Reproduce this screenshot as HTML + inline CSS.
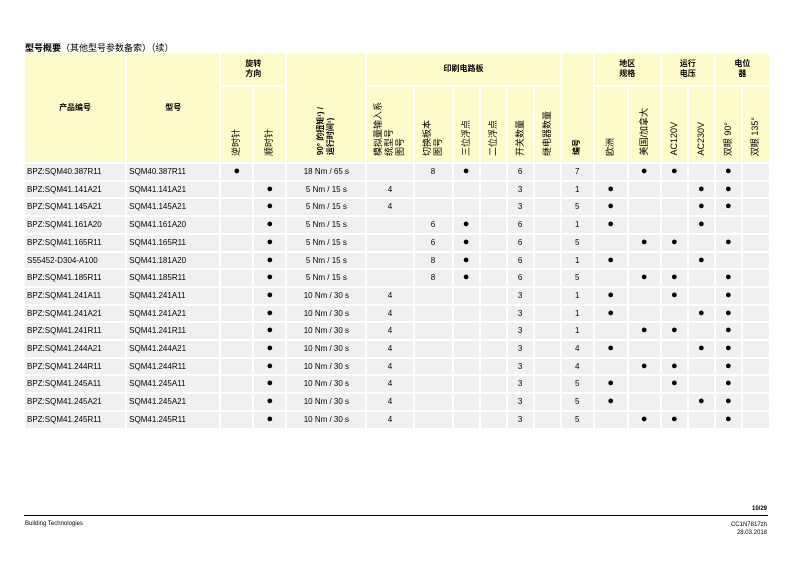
<!DOCTYPE html>
<html><head><meta charset="utf-8"><style>
body{margin:0;width:793px;height:561px;background:#fff;position:relative;overflow:hidden;font-family:"Liberation Sans","Noto Sans CJK SC",sans-serif;color:#000}
.title{position:absolute;left:25px;top:41px;font-size:9px}
.title b{font-weight:bold}
table{position:absolute;left:23px;top:51px;border-collapse:separate;border-spacing:2px;table-layout:fixed;width:748px}
td{padding:0;font-size:8px;text-align:center;vertical-align:middle;overflow:hidden;white-space:nowrap}
thead td{background:#fffccb;font-weight:bold;font-size:8px}
tbody td{background:#f0f0f0;height:15.7px;line-height:15.7px}
tbody td.l{text-align:left;padding-left:2px}
.r1 td{height:32px;line-height:10px}
.r2 td{height:71px;vertical-align:bottom;padding-bottom:4px}
.v{writing-mode:vertical-rl;text-orientation:sideways;transform:rotate(180deg);display:inline-block;font-weight:normal;font-size:9px;line-height:11px;text-align:left}
.vb{font-weight:bold;font-size:8px;line-height:10px}
.d{font-size:11px}
.line{position:absolute;left:24px;top:515px;width:744px;height:1px;background:#000}
.f{position:absolute;font-size:6px}
</style></head><body>
<div class="title"><b>型号概要</b>（其他型号参数备索）（续）</div>
<table>
<colgroup>
<col style="width:100px"><col style="width:92px"><col style="width:31px"><col style="width:31px"><col style="width:78px"><col style="width:45px"><col style="width:37px"><col style="width:25px"><col style="width:25px"><col style="width:25px"><col style="width:25px"><col style="width:31px"><col style="width:32px"><col style="width:31px"><col style="width:25px"><col style="width:25px"><col style="width:25px"><col style="width:26px">
</colgroup>
<thead>
<tr class="r1"><td rowspan="2" style="vertical-align:middle">产品编号</td><td rowspan="2" style="vertical-align:middle">型号</td><td colspan="2">旋转<br>方向</td><td rowspan="2" style="vertical-align:bottom;padding-bottom:4px"><span class="v vb">90° 的扭矩¹) /<br>运行时间¹)</span></td><td colspan="6">印刷电路板</td><td rowspan="2" style="vertical-align:bottom;padding-bottom:4px"><span class="v vb">编号</span></td><td colspan="2">地区<br>规格</td><td colspan="2">运行<br>电压</td><td colspan="2">电位<br>器</td></tr>
<tr class="r2"><td><span class="v">逆时针</span></td><td><span class="v">顺时针</span></td><td><span class="v">模拟量输入系<br>统型号<br>图号</span></td><td><span class="v">切换板本<br>图号</span></td><td><span class="v">三位浮点</span></td><td><span class="v">二位浮点</span></td><td><span class="v">开关数量</span></td><td><span class="v">继电器数量</span></td><td><span class="v">欧洲</span></td><td><span class="v">美国/加拿大</span></td><td><span class="v">AC120V</span></td><td><span class="v">AC230V</span></td><td><span class="v">双眼 90°</span></td><td><span class="v">双眼 135°</span></td></tr>
</thead>
<tbody>
<tr><td class="l">BPZ:SQM40.387R11</td><td class="l">SQM40.387R11</td><td class="d">●</td><td></td><td>18 Nm / 65 s</td><td></td><td>8</td><td class="d">●</td><td></td><td>6</td><td></td><td>7</td><td></td><td class="d">●</td><td class="d">●</td><td></td><td class="d">●</td><td></td></tr>
<tr><td class="l">BPZ:SQM41.141A21</td><td class="l">SQM41.141A21</td><td></td><td class="d">●</td><td>5 Nm / 15 s</td><td>4</td><td></td><td></td><td></td><td>3</td><td></td><td>1</td><td class="d">●</td><td></td><td></td><td class="d">●</td><td class="d">●</td><td></td></tr>
<tr><td class="l">BPZ:SQM41.145A21</td><td class="l">SQM41.145A21</td><td></td><td class="d">●</td><td>5 Nm / 15 s</td><td>4</td><td></td><td></td><td></td><td>3</td><td></td><td>5</td><td class="d">●</td><td></td><td></td><td class="d">●</td><td class="d">●</td><td></td></tr>
<tr><td class="l">BPZ:SQM41.161A20</td><td class="l">SQM41.161A20</td><td></td><td class="d">●</td><td>5 Nm / 15 s</td><td></td><td>6</td><td class="d">●</td><td></td><td>6</td><td></td><td>1</td><td class="d">●</td><td></td><td></td><td class="d">●</td><td></td><td></td></tr>
<tr><td class="l">BPZ:SQM41.165R11</td><td class="l">SQM41.165R11</td><td></td><td class="d">●</td><td>5 Nm / 15 s</td><td></td><td>6</td><td class="d">●</td><td></td><td>6</td><td></td><td>5</td><td></td><td class="d">●</td><td class="d">●</td><td></td><td class="d">●</td><td></td></tr>
<tr><td class="l">S55452-D304-A100</td><td class="l">SQM41.181A20</td><td></td><td class="d">●</td><td>5 Nm / 15 s</td><td></td><td>8</td><td class="d">●</td><td></td><td>6</td><td></td><td>1</td><td class="d">●</td><td></td><td></td><td class="d">●</td><td></td><td></td></tr>
<tr><td class="l">BPZ:SQM41.185R11</td><td class="l">SQM41.185R11</td><td></td><td class="d">●</td><td>5 Nm / 15 s</td><td></td><td>8</td><td class="d">●</td><td></td><td>6</td><td></td><td>5</td><td></td><td class="d">●</td><td class="d">●</td><td></td><td class="d">●</td><td></td></tr>
<tr><td class="l">BPZ:SQM41.241A11</td><td class="l">SQM41.241A11</td><td></td><td class="d">●</td><td>10 Nm / 30 s</td><td>4</td><td></td><td></td><td></td><td>3</td><td></td><td>1</td><td class="d">●</td><td></td><td class="d">●</td><td></td><td class="d">●</td><td></td></tr>
<tr><td class="l">BPZ:SQM41.241A21</td><td class="l">SQM41.241A21</td><td></td><td class="d">●</td><td>10 Nm / 30 s</td><td>4</td><td></td><td></td><td></td><td>3</td><td></td><td>1</td><td class="d">●</td><td></td><td></td><td class="d">●</td><td class="d">●</td><td></td></tr>
<tr><td class="l">BPZ:SQM41.241R11</td><td class="l">SQM41.241R11</td><td></td><td class="d">●</td><td>10 Nm / 30 s</td><td>4</td><td></td><td></td><td></td><td>3</td><td></td><td>1</td><td></td><td class="d">●</td><td class="d">●</td><td></td><td class="d">●</td><td></td></tr>
<tr><td class="l">BPZ:SQM41.244A21</td><td class="l">SQM41.244A21</td><td></td><td class="d">●</td><td>10 Nm / 30 s</td><td>4</td><td></td><td></td><td></td><td>3</td><td></td><td>4</td><td class="d">●</td><td></td><td></td><td class="d">●</td><td class="d">●</td><td></td></tr>
<tr><td class="l">BPZ:SQM41.244R11</td><td class="l">SQM41.244R11</td><td></td><td class="d">●</td><td>10 Nm / 30 s</td><td>4</td><td></td><td></td><td></td><td>3</td><td></td><td>4</td><td></td><td class="d">●</td><td class="d">●</td><td></td><td class="d">●</td><td></td></tr>
<tr><td class="l">BPZ:SQM41.245A11</td><td class="l">SQM41.245A11</td><td></td><td class="d">●</td><td>10 Nm / 30 s</td><td>4</td><td></td><td></td><td></td><td>3</td><td></td><td>5</td><td class="d">●</td><td></td><td class="d">●</td><td></td><td class="d">●</td><td></td></tr>
<tr><td class="l">BPZ:SQM41.245A21</td><td class="l">SQM41.245A21</td><td></td><td class="d">●</td><td>10 Nm / 30 s</td><td>4</td><td></td><td></td><td></td><td>3</td><td></td><td>5</td><td class="d">●</td><td></td><td></td><td class="d">●</td><td class="d">●</td><td></td></tr>
<tr><td class="l">BPZ:SQM41.245R11</td><td class="l">SQM41.245R11</td><td></td><td class="d">●</td><td>10 Nm / 30 s</td><td>4</td><td></td><td></td><td></td><td>3</td><td></td><td>5</td><td></td><td class="d">●</td><td class="d">●</td><td></td><td class="d">●</td><td></td></tr>
</tbody>
</table>
<div class="f" style="right:26px;top:506px;font-weight:bold">10/29</div>
<div class="line"></div>
<div class="f" style="left:25px;top:521px">Building Technologies</div>
<div class="f" style="right:26px;top:521px;text-align:right;line-height:8px">CC1N7817zh<br>28.03.2018</div>
</body></html>
